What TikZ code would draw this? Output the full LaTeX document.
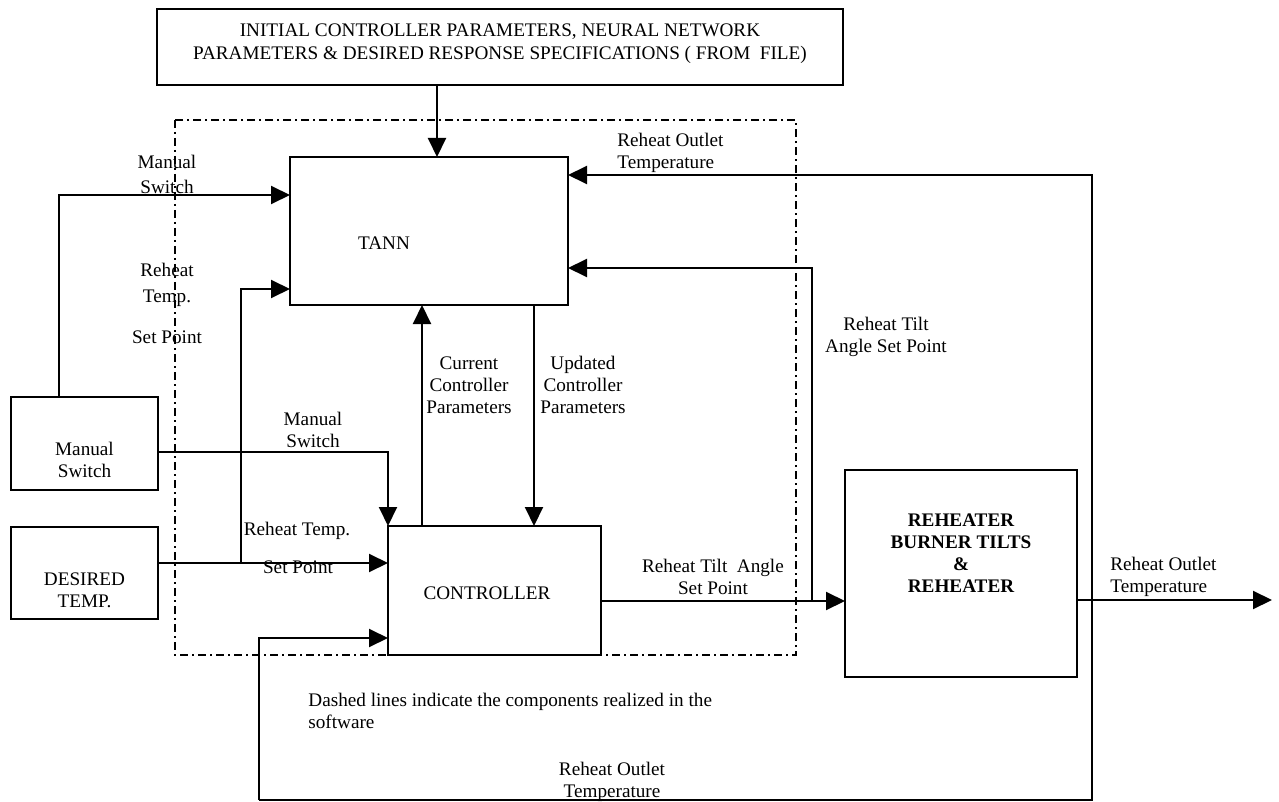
\documentclass[tikz,border=0pt]{standalone}
\usepackage{fontspec}
\setmainfont{Liberation Serif}
\usetikzlibrary{arrows.meta,calc}
\begin{document}
\begin{tikzpicture}[x=0.5pt,y=-0.5pt,
  blk/.style={draw,line width=1pt,inner sep=0pt,outer sep=0pt,anchor=north west},
  arr/.style={line width=1pt,-{Triangle[length=9.5pt,width=9pt]}},
  ln/.style={line width=1pt},
  lbl/.style={font=\fontsize{9.6pt}{11pt}\selectfont,align=center,inner sep=0pt},
  dashdot/.style={line width=1pt,dash pattern=on 4pt off 2pt on 1pt off 2pt}]
\useasboundingbox (0,0) rectangle (1279,802);
% boxes
\node[blk,minimum width=343pt,minimum height=38pt] (top) at (157,9) {};
\node[blk,minimum width=139pt,minimum height=74pt] (tann) at (290,157) {};
\node[blk,minimum width=73.5pt,minimum height=46.5pt] (ms) at (11,397) {};
\node[blk,minimum width=73.5pt,minimum height=46pt] (dt) at (11,527) {};
\node[blk,minimum width=106.5pt,minimum height=64.5pt] (ctrl) at (388,526) {};
\node[blk,minimum width=116pt,minimum height=103.5pt] (reh) at (845,470) {};
% software boundary
\draw[dashdot] (175,120) rectangle (796,655);
% box texts
\node[lbl,font=\fontsize{9.6pt}{11.5pt}\selectfont] (toptxt) at (500,43.5) {INITIAL CONTROLLER PARAMETERS, NEURAL NETWORK\\PARAMETERS \& DESIRED RESPONSE SPECIFICATIONS ( FROM\ \ FILE)};
\node[lbl] (tanntxt) at (384,243) {TANN};
\node[lbl] (mstxt) at (84.5,460) {Manual\\Switch};
\node[lbl] (dttxt) at (84.5,590) {DESIRED\\TEMP.};
\node[lbl] (ctrltxt) at (487,593) {CONTROLLER};
\node[lbl,font=\bfseries\fontsize{9.6pt}{11pt}\selectfont] (rehtxt) at (961,553) {REHEATER\\BURNER TILTS\\\&\\REHEATER};
% helper coordinates
\coordinate (din) at ([yshift=13.75pt]ctrl.west);
\coordinate (j1) at (241,563);
\coordinate (cout) at ([yshift=-5.25pt]ctrl.east);
\coordinate (br) at (812,601);
\coordinate (out) at ([yshift=-13.25pt]reh.east);
\coordinate (fb) at ([xshift=7.5pt]out);
\coordinate (outend) at ([xshift=97.5pt]out);
\coordinate (fbl) at (259,800);
% connectors
\draw[arr] ([xshift=4pt]tann.north |- top.south) -- ([xshift=4pt]tann.north);
\draw[arr] ([xshift=-12.75pt]ms.north) |- ([yshift=18pt]tann.west);
\draw[arr] (j1) |- ([yshift=-29pt]tann.west);
\draw[arr] ([yshift=-4.25pt]ms.east) -| (ctrl.north west);
\draw[arr] (dt.east |- din) -- (din);
\draw[arr] ([xshift=-36.25pt]ctrl.north) -- ([xshift=-36.25pt]ctrl.north |- tann.south);
\draw[arr] ([xshift=52.5pt]tann.south) -- ([xshift=52.5pt]tann.south |- ctrl.north);
\draw[arr] (cout) -- (reh.west |- cout);
\draw[arr] (br) |- ([yshift=-18.5pt]tann.east);
\draw[arr] (out) -- (outend);
\draw[arr] (fb) |- ([yshift=28pt]tann.east);
\draw[ln] (fb) |- (fbl);
\draw[arr] (fbl) |- ([yshift=-23.75pt]ctrl.west);
% labels
\node[lbl,font=\fontsize{9.6pt}{12.5pt}\selectfont] (l1) at (167,174) {Manual\\Switch};
\node[lbl,font=\fontsize{9.6pt}{13pt}\selectfont] (l2) at (167,285) {Reheat\\Temp.};
\node[lbl] (l3) at (167,337) {Set Point};
\node[lbl] (l4) at (313,430) {Manual\\Switch};
\node[lbl] (l5) at (297,531) {Reheat Temp.};
\node[lbl] (l6) at (298,567) {Set Point};
\node[lbl] (l7) at (469,385) {Current\\Controller\\Parameters};
\node[lbl] (l8) at (583,385) {Updated\\Controller\\Parameters};
\node[lbl,align=left,anchor=west] (l9) at (617,152.5) {Reheat Outlet\\Temperature};
\node[lbl] (l10) at (886,336.5) {Reheat Tilt\\Angle Set Point};
\node[lbl] (l11) at (713,577) {Reheat Tilt\ \ Angle\\Set Point};
\node[lbl,align=left,anchor=west] (l12) at (1110,576.5) {Reheat Outlet\\Temperature};
\node[lbl,align=left,anchor=west] (l13) at (308,711) {Dashed lines indicate the components realized in the\\software};
\node[lbl] (l14) at (612,782) {Reheat Outlet\\Temperature};
\end{tikzpicture}
\end{document}
